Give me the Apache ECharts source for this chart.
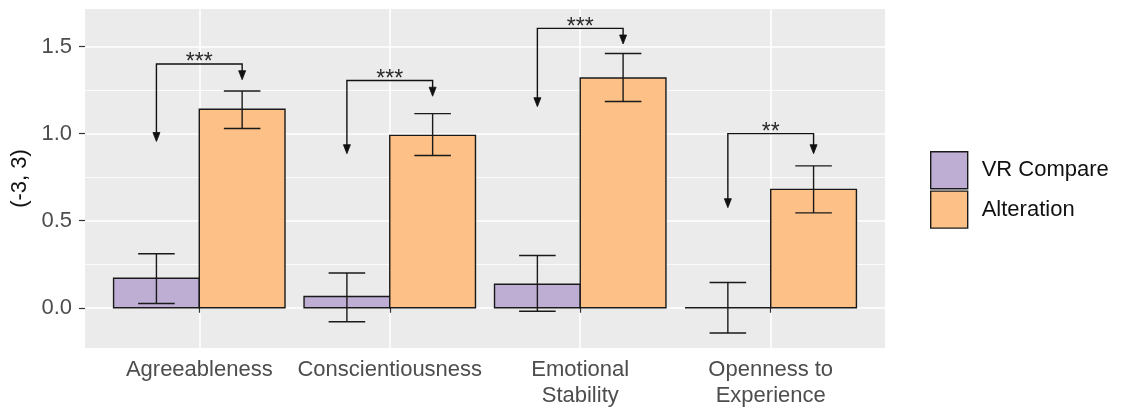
<!DOCTYPE html>
<html>
<head>
<meta charset="utf-8">
<script src="https://cdn.jsdelivr.net/npm/echarts@6/dist/echarts.min.js"></script>
<style>html,body{margin:0;padding:0;background:#fff;}#c{width:1122px;height:410px;}</style>
</head>
<body>
<div id="c"></div>
<script>
const categories = ['Agreeableness', 'Conscientiousness', 'Emotional\nStability', 'Openness to\nExperience'];
const seriesNames = ['VR Compare', 'Alteration'];
const vrMean = [0.17, 0.065, 0.135, 0.0];
const vrLow = [0.025, -0.08, -0.02, -0.145];
const vrHigh = [0.31, 0.20, 0.30, 0.145];
const altMean = [1.14, 0.99, 1.32, 0.68];
const altLow = [1.03, 0.875, 1.185, 0.545];
const altHigh = [1.245, 1.115, 1.46, 0.815];
const bracketY = [1.40, 1.305, 1.605, 1.00];
const leftTip = [0.955, 0.885, 1.155, 0.575];
const rightTip = [1.31, 1.215, 1.515, 0.885];
const sigLabels = ['***', '***', '***', '**'];
const yTicks = [0, 0.5, 1.0, 1.5];
const yMinorTicks = [0.25, 0.75, 1.25];

const FONT = 'Liberation Sans';
const colors = ['#BEAED4', '#FDC086'];
const BW = 0.45; // dodge width of each bar
const CAP = 0.096;

function barRender(offset, color) {
  return function (params, api) {
    const x = api.value(0) + offset, m = api.value(1), lo = api.value(2), hi = api.value(3);
    const a = api.coord([x - BW / 2, m]);
    const b = api.coord([x + BW / 2, 0]);
    const cx = api.coord([x, 0])[0];
    const cl = api.coord([x - CAP, 0])[0], cr = api.coord([x + CAP, 0])[0];
    const yh = api.coord([x, hi])[1], yl = api.coord([x, lo])[1];
    const st = { stroke: '#1a1a1a', lineWidth: 1.4, fill: null };
    return {
      type: 'group',
      children: [
        { type: 'rect', shape: { x: a[0], y: Math.min(a[1], b[1]), width: b[0] - a[0], height: Math.abs(b[1] - a[1]) },
          style: { fill: color, stroke: '#1a1a1a', lineWidth: 1.4 } },
        { type: 'line', shape: { x1: cx, y1: yh, x2: cx, y2: yl }, style: st },
        { type: 'line', shape: { x1: cl, y1: yh, x2: cr, y2: yh }, style: st },
        { type: 'line', shape: { x1: cl, y1: yl, x2: cr, y2: yl }, style: st }
      ]
    };
  };
}

function sigRender(params, api) {
  const x = api.value(0), by = api.value(1), lt = api.value(2), rt = api.value(3);
  const L = api.coord([x - BW / 2, by]);
  const R = api.coord([x + BW / 2, by]);
  const ly = api.coord([x, lt])[1], ry = api.coord([x, rt])[1];
  const st = { stroke: '#111', lineWidth: 1.4, fill: null };
  const head = (px, py) => ({ type: 'polygon', shape: { points: [[px, py], [px - 3.5, py - 9], [px + 3.5, py - 9]] }, style: { fill: '#111', stroke: '#111', lineWidth: 0.8 } });
  return {
    type: 'group',
    children: [
      { type: 'polyline', shape: { points: [[L[0], ly - 4], [L[0], L[1]], [R[0], R[1]], [R[0], ry - 4]] }, style: st },
      head(L[0], ly), head(R[0], ry),
      { type: 'text', x: (L[0] + R[0]) / 2, y: L[1] - 1,
        style: { text: sigLabels[params.dataIndex], fill: '#2a2a2a', font: '23px ' + FONT, align: 'center', verticalAlign: 'middle' } }
    ]
  };
}

const chart = echarts.init(document.getElementById('c'), null, { renderer: 'canvas' });
chart.setOption({
  animation: false,
  backgroundColor: '#fff',
  grid: { left: 85, top: 9, width: 800, height: 339, show: true, backgroundColor: '#EBEBEB', borderWidth: 0,
    containLabel: false, outerBoundsMode: 'none' },
  legend: {
    orient: 'vertical', left: 925, top: 146, itemWidth: 37, itemHeight: 37, itemGap: 1,
    selectedMode: false,
    textStyle: { fontFamily: FONT, fontSize: 22, color: '#111', padding: [0, 0, 0, 9] },
    data: seriesNames.map((n, i) => ({ name: n, icon: 'rect', itemStyle: { color: colors[i], borderColor: '#1a1a1a', borderWidth: 1.4 } }))
  },
  xAxis: {
    type: 'value', min: 0.4, max: 4.6,
    axisLine: { show: false },
    axisTick: { show: true, customValues: [1, 2, 3, 4], length: 5, lineStyle: { color: '#333', width: 1.2 } },
    axisLabel: { customValues: [1, 2, 3, 4], formatter: v => categories[Math.round(v) - 1], margin: 9,
      fontFamily: FONT, fontSize: 22, lineHeight: 26, color: '#4D4D4D' },
    splitLine: { show: true, lineStyle: { color: '#fff', width: 1.6 } }
  },
  yAxis: [{
    type: 'value', min: -0.231, max: 1.716,
    name: '(-3, 3)', nameLocation: 'middle', nameGap: 52, nameRotate: 90,
    nameTextStyle: { fontFamily: FONT, fontSize: 22, color: '#111' },
    axisLine: { show: false },
    axisTick: { show: true, customValues: yTicks, length: 6, lineStyle: { color: '#333', width: 1.2 } },
    axisLabel: { customValues: yTicks, formatter: v => v.toFixed(1), margin: 13,
      fontFamily: FONT, fontSize: 22, color: '#4D4D4D' },
    splitLine: { show: true, lineStyle: { color: '#fff', width: 1.6 } }
  }, {
    type: 'value', min: -0.231, max: 1.716, position: 'left',
    axisLine: { show: false },
    axisTick: { show: false, customValues: yMinorTicks },
    axisLabel: { show: false, customValues: yMinorTicks },
    splitLine: { show: true, lineStyle: { color: '#fff', width: 0.8 } }
  }],
  series: [
    { name: seriesNames[0], type: 'custom', itemStyle: { color: colors[0] },
      renderItem: barRender(-BW / 2, colors[0]),
      data: vrMean.map((m, i) => [i + 1, m, vrLow[i], vrHigh[i]]) },
    { name: seriesNames[1], type: 'custom', itemStyle: { color: colors[1] },
      renderItem: barRender(BW / 2, colors[1]),
      data: altMean.map((m, i) => [i + 1, m, altLow[i], altHigh[i]]) },
    { name: 'sig', type: 'custom', renderItem: sigRender, silent: true,
      data: bracketY.map((b, i) => [i + 1, b, leftTip[i], rightTip[i]]) }
  ]
});
</script>
</body>
</html>
